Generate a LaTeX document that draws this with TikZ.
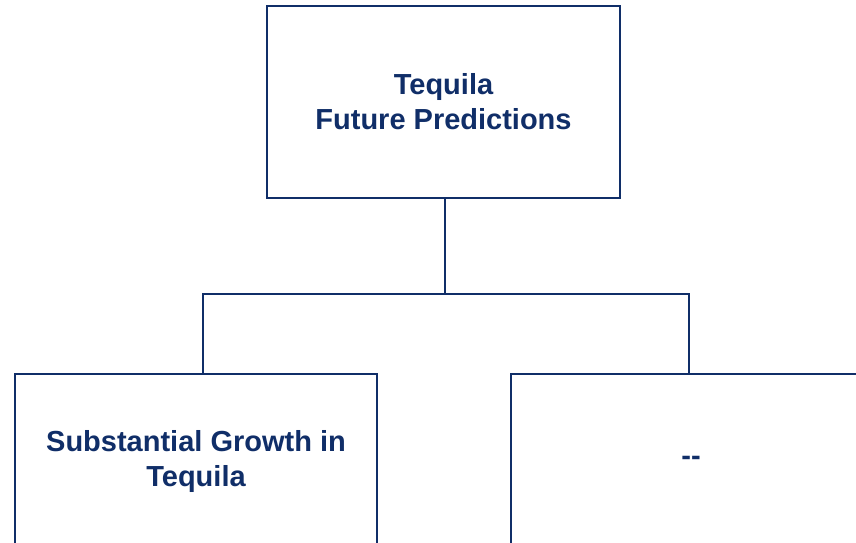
\documentclass[tikz,border=0pt]{standalone}
\usepackage{fontspec}
\setmainfont{Liberation Sans}
\usepackage{tikz}
\usetikzlibrary{positioning}
\definecolor{navy}{RGB}{16,46,104}
\tikzset{
  mainbox/.style={rectangle, draw=navy, line width=2.5pt, fill=white, text=navy, align=center,
                  font=\fontsize{29}{35}\selectfont\bfseries, inner sep=0pt},
  link/.style={draw=navy, line width=2.2pt},
}

\begin{document}
\begin{tikzpicture}[x=1pt, y=-1pt]
  \useasboundingbox (0,0) rectangle (856,543);
  \begin{scope}
  \clip (0,0) rectangle (856,543);
  \node[mainbox, minimum width=353pt, minimum height=192pt] (top) at (443.5,102) {Tequila\\Future Predictions};
  \node[mainbox, minimum width=362pt, minimum height=174pt] (growth) at (196,461) {Substantial Growth in\\Tequila};
  \node[mainbox, minimum width=360pt, minimum height=174pt] (empty) at (691,461) {-{}-};
  \coordinate (junction) at (445,294);

  \draw[link] (top.south -| junction) -- (junction);
  \draw[link] ([xshift=7pt]growth.north) |- (junction) -| ([xshift=-2pt]empty.north);
  \end{scope}
\end{tikzpicture}
\end{document}
